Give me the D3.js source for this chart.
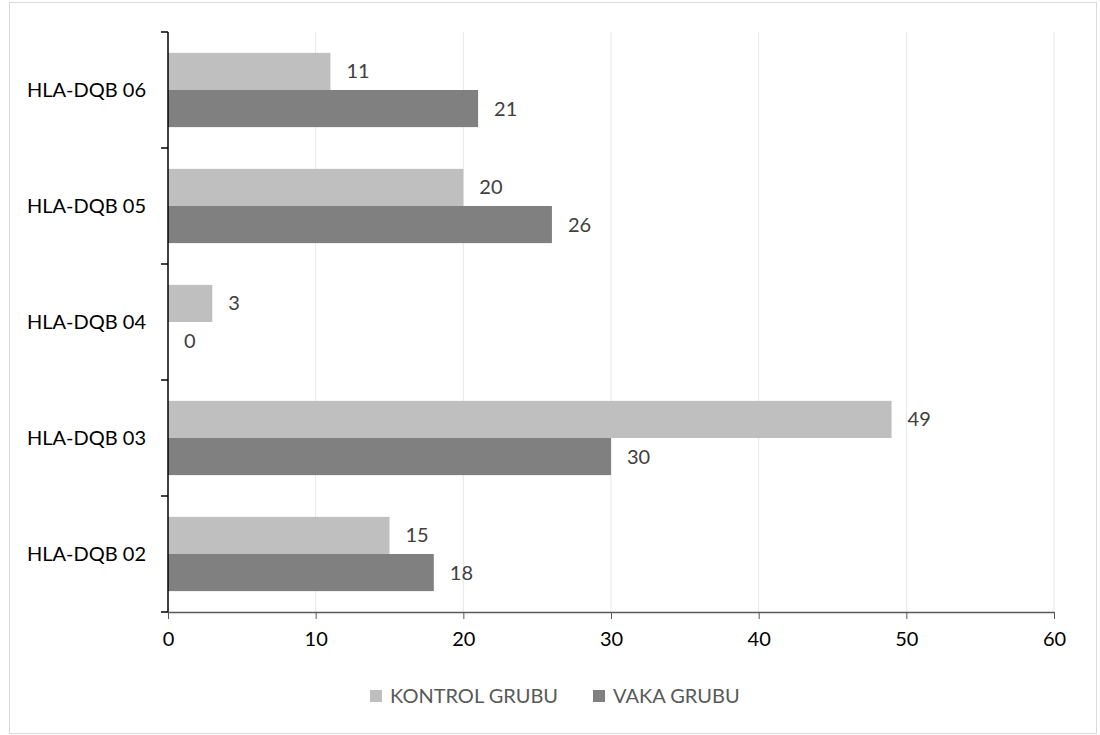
<!DOCTYPE html>
<html>
<head>
<meta charset="utf-8">
<script src="https://cdn.jsdelivr.net/npm/d3@7"></script>
<style>
  body { margin: 0; background: #fff; }
  text { font-family: Lato, "Open Sans", sans-serif; }
</style>
</head>
<body>
<svg></svg>
<script>
// categories top to bottom as drawn
const categories = ['HLA-DQB 06', 'HLA-DQB 05', 'HLA-DQB 04', 'HLA-DQB 03', 'HLA-DQB 02'];
const kontrol = [11, 20, 3, 49, 15];
const vaka = [21, 26, 0, 30, 18];
const seriesNames = ['KONTROL GRUBU', 'VAKA GRUBU'];
const xTicks = [0, 10, 20, 30, 40, 50, 60];

const colors = ['#bfbfbf', '#808080'];

const svg = d3.select('svg')
              .attr('width', 1100)
              .attr('height', 735);

// outer frame
svg.append('rect')
   .attr('x', 9.5).attr('y', 2.5)
   .attr('width', 1087).attr('height', 731)
   .attr('fill', '#fff')
   .attr('stroke', '#d9d9d9');

const plotL = 168, plotR = 1054, plotT = 32, plotB = 612;

const xScale = d3.scaleLinear()
                 .domain([0, 60])
                 .range([plotL, plotR]);

const yScale = d3.scaleBand()
                 .domain(categories)
                 .range([plotT, plotB])
                 .paddingInner(0.36)
                 .paddingOuter(0.18);

const inner = d3.scaleBand()
                .domain([0, 1])
                .range([0, yScale.bandwidth()]);

// grid lines
svg.append('g')
   .selectAll('line')
   .data(xTicks.slice(1))
   .enter()
   .append('line')
   .attr('x1', d => xScale(d)).attr('x2', d => xScale(d))
   .attr('y1', plotT).attr('y2', plotB)
   .attr('stroke', '#e6e6e6')
   .attr('stroke-width', 1);

const rows = categories.map((c, i) => ({ cat: c, vals: [kontrol[i], vaka[i]] }));

const groups = svg.selectAll('.row')
   .data(rows)
   .enter()
   .append('g')
   .attr('class', 'row')
   .attr('transform', d => `translate(0,${yScale(d.cat)})`);

groups.selectAll('rect')
   .data(d => d.vals.map((v, j) => ({ v, j })))
   .enter()
   .append('rect')
   .attr('x', xScale(0))
   .attr('y', d => inner(d.j))
   .attr('width', d => xScale(d.v) - xScale(0))
   .attr('height', inner.bandwidth())
   .attr('fill', d => colors[d.j]);

groups.selectAll('text')
   .data(d => d.vals.map((v, j) => ({ v, j })))
   .enter()
   .append('text')
   .attr('x', d => xScale(d.v) + 16)
   .attr('y', d => inner(d.j) + inner.bandwidth() / 2)
   .attr('dy', '0.35em')
   .attr('font-size', 20)
   .attr('fill', '#404040')
   .text(d => d.v);

// y axis
const yAxis = svg.append('g')
   .attr('transform', `translate(${plotL},0)`);
yAxis.append('line')
   .attr('x1', 0).attr('x2', 0)
   .attr('y1', plotT).attr('y2', plotB)
   .attr('stroke', '#000').attr('stroke-width', 1.5);
const bandStep = (plotB - plotT) / categories.length;
yAxis.selectAll('.tk')
   .data(d3.range(categories.length + 1))
   .enter()
   .append('line')
   .attr('x1', -7).attr('x2', 0)
   .attr('y1', d => plotT + d * bandStep).attr('y2', d => plotT + d * bandStep)
   .attr('stroke', '#000').attr('stroke-width', 1.5);
yAxis.selectAll('.lbl')
   .data(categories)
   .enter()
   .append('text')
   .attr('x', -22)
   .attr('y', d => yScale(d) + yScale.bandwidth() / 2)
   .attr('dy', '0.35em')
   .attr('text-anchor', 'end')
   .attr('font-size', 20)
   .attr('fill', '#000')
   .text(d => d);

// x axis
const xAxis = svg.append('g')
   .attr('transform', `translate(0,${plotB})`)
   .call(d3.axisBottom(xScale).tickValues(xTicks).tickSize(7).tickSizeOuter(0).tickPadding(13));
xAxis.select('.domain').attr('stroke', '#595959').attr('stroke-width', 1.5);
xAxis.selectAll('.tick line').attr('stroke', '#595959');
xAxis.selectAll('.tick text')
     .attr('font-size', 20)
     .attr('font-family', 'Lato, sans-serif')
     .attr('fill', '#000');

// legend
const legendX = [370, 593];
const legend = svg.append('g');
seriesNames.forEach((name, i) => {
  legend.append('rect')
        .attr('x', legendX[i]).attr('y', 690)
        .attr('width', 12).attr('height', 12)
        .attr('fill', colors[i]);
  legend.append('text')
        .attr('x', legendX[i] + 20).attr('y', 696)
        .attr('dy', '0.35em')
        .attr('font-size', 20)
        .attr('fill', '#595959')
        .text(name);
});
</script>
</body>
</html>
